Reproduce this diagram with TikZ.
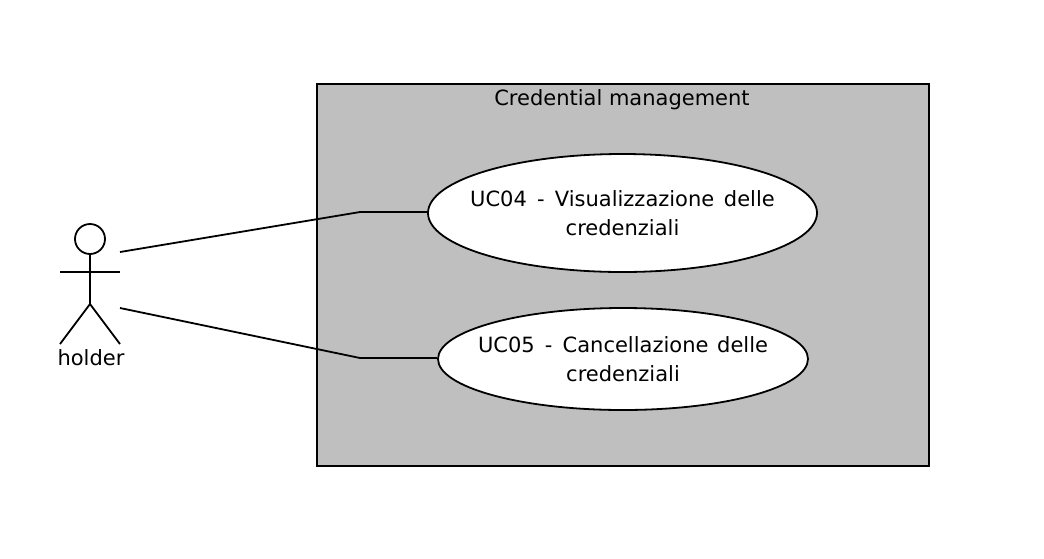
\documentclass[tikz,border=0pt]{standalone}
\usepackage{fontspec}
\setmainfont{DejaVu Sans}
\usetikzlibrary{shapes.geometric}
\newcommand{\gapdash}{\hspace{3.5pt} -\hspace{3.5pt} }
\tikzset{
  line/.style={draw=black,line width=1.8pt},
  usecase/.style={ellipse,draw=black,fill=white,line width=1.8pt,inner xsep=-120pt,inner ysep=-40pt,align=center,font=\fontsize{21}{29}\selectfont},
  label/.style={inner sep=0pt,font=\fontsize{21}{29}\selectfont,text=black},
}
\begin{document}
\begin{tikzpicture}[x=1pt,y=-1pt]
\useasboundingbox (0,0) rectangle (1044,558);
\fill[white] (0,0) rectangle (1044,558);
\node[draw=black,fill=black!25,line width=2pt,minimum width=612pt,minimum height=382pt,inner sep=0pt,anchor=north west] (sys) at (316.2,83.2) {};
\node[label] (title) at (622,100) {Credential management};
\node[usecase,minimum width=389pt,minimum height=118pt] (uc4) at (622.5,213) {UC04\gapdash Visualizzazione\hspace{3pt} delle\\credenziali};
\node[usecase,minimum width=370pt,minimum height=102pt] (uc5) at (623,359) {UC05\gapdash Cancellazione\hspace{2pt} delle\\credenziali};
\node[circle,draw=black,line width=1.8pt,minimum size=30pt,inner sep=0pt] (head) at (90,239) {};
\coordinate (hip) at (90,304);
\coordinate (armL) at (60,272);
\coordinate (armR) at (120,272);
\coordinate (footL) at (60,344);
\coordinate (footR) at (120,344);
\draw[line] (head.south) -- (hip);
\draw[line] (armL) -- (armR);
\draw[line] (footL) -- (hip) -- (footR);
\node[label] (holder) at (91,358) {holder};
\coordinate (a1) at (120,252);
\coordinate (b1) at (360,212);
\coordinate (a2) at (120,308);
\coordinate (b2) at (360,358);
\draw[line] (a1) -- (b1) -- (uc4.west |- b1);
\draw[line] (a2) -- (b2) -- (uc5.west |- b2);
\end{tikzpicture}
\end{document}
